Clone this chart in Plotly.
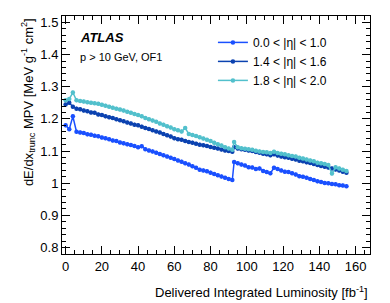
import plotly.graph_objects as go

LUMI = [0, 2, 4, 6, 8, 10, 12, 14, 16, 18, 20, 22, 24, 26, 28, 30, 32, 34, 36, 38,
        40, 42, 44, 46, 48, 50, 52, 54, 56, 58, 60, 62, 64, 66, 68, 70, 72, 74, 76, 78,
        80, 82, 84, 86, 88, 90, 92, 93, 95, 97, 99, 101, 103, 105, 107, 109, 111, 113,
        115, 117, 119, 121, 123, 125, 127, 129, 131, 133, 135, 137, 139, 141, 143, 145,
        147, 149, 151, 153, 155]

ETA_00_10 = [1.180, 1.168, 1.208, 1.160, 1.158, 1.156, 1.152, 1.151, 1.148, 1.146,
             1.142, 1.140, 1.137, 1.133, 1.131, 1.127, 1.124, 1.121, 1.119, 1.116,
             1.112, 1.115, 1.106, 1.102, 1.099, 1.095, 1.091, 1.087, 1.083, 1.079,
             1.075, 1.071, 1.067, 1.062, 1.058, 1.053, 1.048, 1.042, 1.040, 1.037,
             1.033, 1.029, 1.025, 1.021, 1.017, 1.013, 1.010, 1.066, 1.062, 1.058,
             1.055, 1.050, 1.049, 1.044, 1.046, 1.038, 1.035, 1.031, 1.048, 1.044,
             1.040, 1.036, 1.035, 1.031, 1.027, 1.022, 1.020, 1.017, 1.013, 1.010,
             1.006, 1.004, 1.001, 1.000, 0.998, 0.997, 0.994, 0.993, 0.991]

ETA_14_16 = [1.245, 1.250, 1.238, 1.232, 1.230, 1.226, 1.224, 1.220, 1.219, 1.214,
             1.212, 1.208, 1.205, 1.203, 1.199, 1.196, 1.193, 1.189, 1.186, 1.182,
             1.180, 1.176, 1.172, 1.169, 1.165, 1.161, 1.158, 1.153, 1.149, 1.145,
             1.140, 1.137, 1.135, 1.131, 1.128, 1.126, 1.123, 1.120, 1.118, 1.116,
             1.113, 1.110, 1.108, 1.105, 1.102, 1.100, 1.098, 1.112, 1.108, 1.106,
             1.104, 1.102, 1.100, 1.097, 1.095, 1.092, 1.090, 1.087, 1.090, 1.086,
             1.083, 1.081, 1.079, 1.076, 1.074, 1.070, 1.068, 1.065, 1.063, 1.060,
             1.057, 1.054, 1.051, 1.049, 1.046, 1.043, 1.040, 1.036, 1.033]

ETA_18_20 = [1.258, 1.262, 1.282, 1.258, 1.256, 1.254, 1.252, 1.250, 1.249, 1.247,
             1.244, 1.241, 1.238, 1.235, 1.232, 1.229, 1.226, 1.222, 1.219, 1.215,
             1.212, 1.208, 1.203, 1.199, 1.195, 1.191, 1.186, 1.182, 1.177, 1.173,
             1.168, 1.165, 1.161, 1.172, 1.153, 1.150, 1.147, 1.143, 1.139, 1.135,
             1.131, 1.126, 1.121, 1.117, 1.112, 1.108, 1.104, 1.128, 1.112, 1.109,
             1.107, 1.106, 1.104, 1.101, 1.099, 1.097, 1.096, 1.094, 1.098, 1.094,
             1.092, 1.090, 1.087, 1.085, 1.083, 1.079, 1.077, 1.074, 1.071, 1.068,
             1.064, 1.062, 1.060, 1.057, 1.030, 1.050, 1.046, 1.042, 1.038]

SERIES = [
    ("0.0 < |η| < 1.0", ETA_00_10, "#1a50ff"),
    ("1.4 < |η| < 1.6", ETA_14_16, "#0b42b0"),
    ("1.8 < |η| < 2.0", ETA_18_20, "#52c0cc"),
]

fig = go.Figure()
for name, vals, col in SERIES:
    fig.add_trace(go.Scatter(
        x=LUMI, y=vals, name=name, mode="lines+markers",
        line=dict(color=col, width=1.5),
        marker=dict(color=col, size=4.5),
        error_y=dict(type="constant", value=0.006, color=col, thickness=1, width=0),
    ))

FONT = "Liberation Sans, Arial, sans-serif"

axis_common = dict(
    showline=True, linecolor="black", linewidth=1, mirror="ticks",
    ticks="inside", ticklen=8, tickcolor="black", tickwidth=1,
    showgrid=False, zeroline=False,
    tickfont=dict(family=FONT, size=13, color="black"),
)

fig.update_xaxes(range=[-2, 168], tick0=0, dtick=20,
                 minor=dict(ticks="inside", ticklen=4, dtick=5, tick0=0, tickcolor="black"),
                 **axis_common)
fig.update_yaxes(range=[0.78, 1.52], tick0=0.8, dtick=0.1,
                 minor=dict(ticks="inside", ticklen=4, dtick=0.02, tick0=0.8, tickcolor="black"),
                 **axis_common)

fig.update_layout(
    width=382, height=295,
    margin=dict(l=54, r=20, t=8, b=49),
    paper_bgcolor="white", plot_bgcolor="white",
    font=dict(family=FONT, size=12, color="black"),
    showlegend=True,
    legend=dict(x=0.49, y=0.95, xanchor="left", yanchor="top",
                bgcolor="rgba(0,0,0,0)", font=dict(family=FONT, size=12),
                itemwidth=30, tracegroupgap=0),
    annotations=[
        dict(text="<b><i>ATLAS</i></b>", x=0.052, y=0.908, xref="paper", yref="paper",
             xanchor="left", yanchor="middle", showarrow=False,
             font=dict(family=FONT, size=13, color="black")),
        dict(text="p > 10 GeV, OF1", x=0.052, y=0.828, xref="paper", yref="paper",
             xanchor="left", yanchor="middle", showarrow=False,
             font=dict(family=FONT, size=11, color="black")),
        dict(text="dE/dx<sub>trunc</sub> MPV [MeV g<sup>-1</sup> cm<sup>2</sup>]",
             x=-0.11, y=1.0, xref="paper", yref="paper", textangle=-90,
             xanchor="center", yanchor="top", showarrow=False,
             font=dict(family=FONT, size=13, color="black")),
        dict(text="Delivered Integrated Luminosity [fb<sup>-1</sup>]",
             x=1.0, y=-0.16, xref="paper", yref="paper",
             xanchor="right", yanchor="middle", showarrow=False,
             font=dict(family=FONT, size=13, color="black")),
    ],
)

fig.write_html("out.html")
